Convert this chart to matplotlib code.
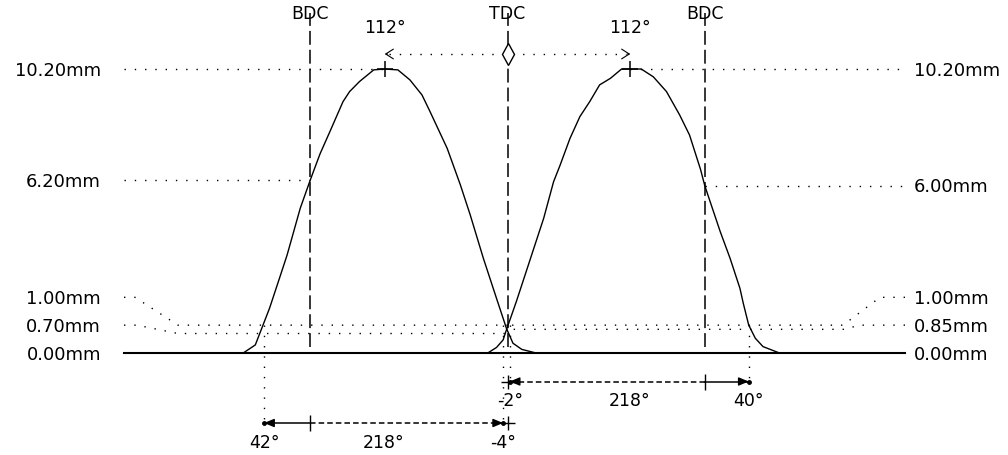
import matplotlib
matplotlib.use('Agg')
import matplotlib.pyplot as plt

# valve lift curves, crank degrees relative to TDC, lift in mm
exh_deg = [-241, -230, -223, -217, -207, -201, -195, -189, -180, -171, -162,
           -150, -144, -135, -122, -112, -100, -89, -78, -71, -55, -43, -34,
           -22, -10, -1, 5, 13, 26]
exh_lift = [0.0, 0.29, 1.0, 1.61, 2.80, 3.52, 4.36, 5.20, 6.2, 7.15, 7.95,
            9.03, 9.39, 9.75, 10.17, 10.2, 10.17, 9.81, 9.27, 8.70, 7.35, 6.04,
            4.96, 3.40, 1.96, 0.89, 0.35, 0.13, 0.0]

int_deg = [-18, -10, -4, -1, 8, 14, 24, 33, 42, 48, 57, 66, 75, 84, 94, 104,
           113, 122, 133, 145, 157, 166, 176, 180, 194, 203, 212, 215, 220,
           226, 233, 248]
int_lift = [0.0, 0.20, 0.47, 0.83, 1.84, 2.56, 3.76, 4.84, 6.15, 6.75, 7.71,
            8.49, 9.03, 9.63, 9.87, 10.2, 10.2, 10.2, 9.92, 9.39, 8.55, 7.83,
            6.6, 6.0, 4.36, 3.40, 2.32, 1.79, 1.0, 0.53, 0.23, 0.0]

max_lift = 10.2
exh_bdc_lift, int_bdc_lift = 6.2, 6.0
exh_check, int_check = 0.70, 0.85
timing_lift = 1.0
centerline = 112
duration = 218
exh_open, exh_close = -222, -4      # 42 BBDC, -4 ATDC
int_open, int_close = 2, 220        # -2 BTDC, 40 ABDC
exh_labels = ['42°', '-4°']
int_labels = ['-2°', '40°']

W, H = 1008, 455
PX_DEG = 1.0965      # pixels per crank degree
PX_MM = 27.84        # pixels per mm of lift
TDC_PX, BASE_PX = 507.5, 353

plt.rcParams['lines.scale_dashes'] = False
plt.rcParams['font.family'] = 'DejaVu Sans'

fig = plt.figure(figsize=(W / 100, H / 100), dpi=100)
ax = fig.add_axes([0, 0, 1, 1])
ax.set_xlim(-TDC_PX / PX_DEG, (W - TDC_PX) / PX_DEG)
ax.set_ylim((BASE_PX - H) / PX_MM, BASE_PX / PX_MM)
ax.axis('off')

def dx(px):
    return px / PX_DEG

def dy(px):
    return px / PX_MM

DOT = (0, (1.0, 6.4))
DASH = (0, (10.0, 3.6))
SMALL_DASH = (0, (4.0, 2.2))
K = 'black'

def dotted(xs, ys):
    ax.plot(xs, ys, color=K, lw=1.0, ls=DOT)

x_left, x_right = -TDC_PX / PX_DEG + dx(124), -TDC_PX / PX_DEG + dx(905)
lbl_left, lbl_right = -TDC_PX / PX_DEG + dx(101), -TDC_PX / PX_DEG + dx(914)

# curves
ax.plot(exh_deg, exh_lift, color=K, lw=1.0)
ax.plot(int_deg, int_lift, color=K, lw=1.0)
ax.plot([x_left, x_right], [0, 0], color=K, lw=1.5)

# TDC / BDC
top = dy(BASE_PX - 13)
for a, name in [(-180, 'BDC'), (0, 'TDC'), (180, 'BDC')]:
    ax.plot([a, a], [dy(6), top], color=K, lw=1.1, ls=DASH)
    ax.text(a, dy(BASE_PX - 14), name, ha='center', va='center', fontsize=12.5)

# level lines
dotted([x_left, -centerline], [max_lift, max_lift])
dotted([centerline, x_right], [max_lift, max_lift])
dotted([x_left, -180], [exh_bdc_lift, exh_bdc_lift])
dotted([180, x_right], [int_bdc_lift, int_bdc_lift])

slot_hi, slot_lo = 2.0, 1.0
dotted([x_left, x_left + dx(11), x_left + dx(54), 0],
       [slot_hi, slot_hi, timing_lift, timing_lift])
dotted([x_left, x_left + dx(13), x_left + dx(54), 0],
       [slot_lo, slot_lo, exh_check, exh_check])
dotted([x_right, x_right - dx(25), x_right - dx(62), 0],
       [slot_hi, slot_hi, timing_lift, timing_lift])
dotted([x_right, x_right - dx(46), x_right - dx(60), 0],
       [slot_lo, slot_lo, int_check, int_check])

fs = 13
for v, y in [(max_lift, max_lift), (exh_bdc_lift, exh_bdc_lift),
             (timing_lift, slot_hi), (exh_check, slot_lo), (0.0, 0.0)]:
    ax.text(lbl_left, y - dy(1.5), '%.2fmm' % v, ha='right', va='center', fontsize=fs)
for v, y in [(max_lift, max_lift), (int_bdc_lift, int_bdc_lift),
             (timing_lift, slot_hi), (int_check, slot_lo), (0.0, 0.0)]:
    ax.text(lbl_right, y - dy(1.5), '%.2fmm' % v, ha='left', va='center', fontsize=fs)

# centerlines
ax.plot([-centerline, centerline], [max_lift, max_lift], 'k+', ms=11, mew=1.1)
y_cl = dy(BASE_PX - 54)
dotted([-centerline + dx(4), centerline - dx(4)], [y_cl, y_cl])
for a, s in [(-centerline, 1), (centerline, -1)]:
    ax.annotate('', xy=(a, y_cl), xytext=(a + s * dx(3), y_cl),
                arrowprops=dict(arrowstyle='->,head_length=0.55,head_width=0.35',
                                color=K, lw=0.8, shrinkA=0, shrinkB=0,
                                mutation_scale=10))
    ax.text(a, dy(BASE_PX - 27.5), '%d°' % centerline, ha='center', va='center',
            fontsize=12.5)
ax.plot([0], [y_cl], marker='d', ms=11, mfc='white', mec=K, mew=1)

# timing rows
row_int = -dy(28.5)
row_exh = -dy(70)
lbl_off = dy(20)

def row(y, a0, a1, solid_first, labels):
    if solid_first:
        ax.plot([a0, -180], [y, y], color=K, lw=1.1)
        ax.plot([-180, a1], [y, y], color=K, lw=1.1, ls=SMALL_DASH)
        ax.plot([-180], [y], 'k|', ms=11, mew=1)
    else:
        ax.plot([a0, 180], [y, y], color=K, lw=1.1, ls=SMALL_DASH)
        ax.plot([180, a1], [y, y], color=K, lw=1.1)
        ax.plot([180], [y], 'k|', ms=11, mew=1)
    ax.plot([0], [y], 'k+', ms=10, mew=1)
    for a, s in [(a0, 1), (a1, -1)]:
        ax.annotate('', xy=(a, y), xytext=(a + s * dx(8), y),
                    arrowprops=dict(arrowstyle='-|>,head_length=0.6,head_width=0.25',
                                    color=K, lw=1, shrinkA=0, shrinkB=0,
                                    mutation_scale=10))
        ax.plot([a], [y], 'ko', ms=2.5)
    ax.text(a0, y - lbl_off, labels[0], ha='center', va='center', fontsize=12.5)
    ax.text(a1, y - lbl_off, labels[1], ha='center', va='center', fontsize=12.5)
    ax.text((a0 + a1) / 2, y - lbl_off, '%d°' % duration, ha='center',
            va='center', fontsize=12.5)

row(row_int, int_open, int_close, False, int_labels)
row(row_exh, exh_open, exh_close, True, exh_labels)

# drop lines from the timing points
for a, y in [(exh_open, row_exh), (exh_close, row_exh), (int_open, row_int),
             (int_close, row_int)]:
    dotted([a, a], [timing_lift, y])

fig.savefig('out.png', dpi=100)
